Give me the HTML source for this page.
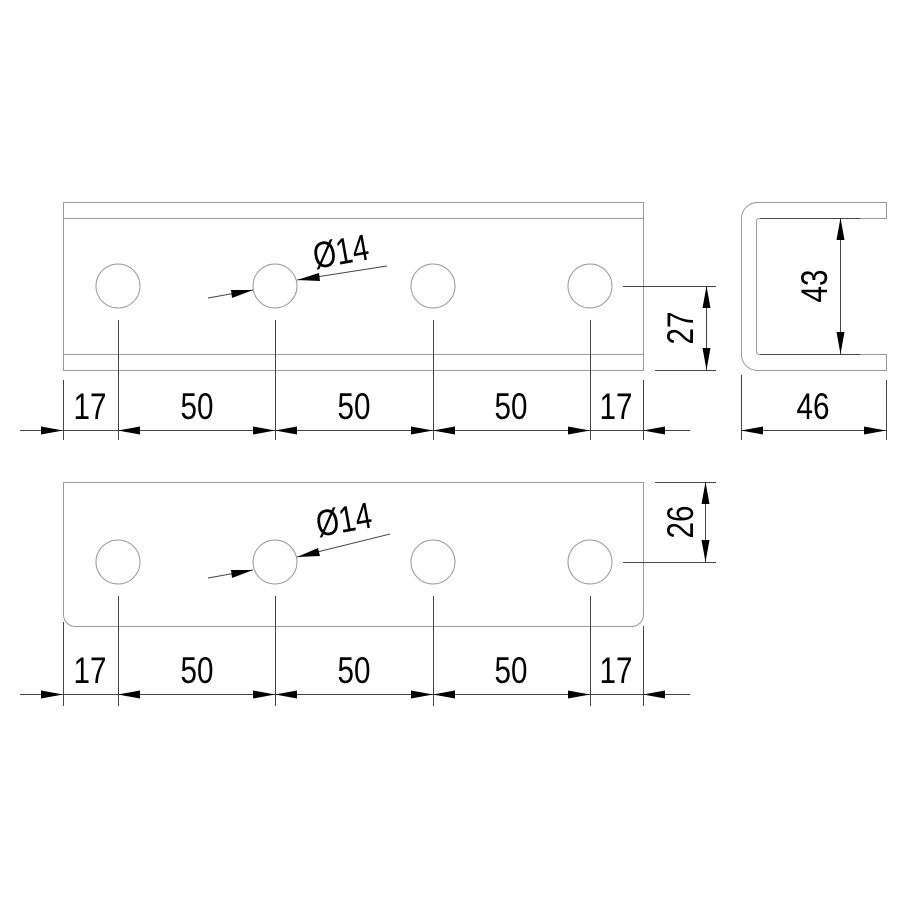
<!DOCTYPE html>
<html><head><style>html,body{margin:0;padding:0;background:#fff}svg{display:block}
text{font-family:"Liberation Sans",sans-serif;font-size:37px;fill:#000}</style></head>
<body>
<svg width="908" height="908" viewBox="0 0 908 908" xmlns="http://www.w3.org/2000/svg">
<defs>
<polygon id="ar" points="0,0 -22,-4 -22,4" fill="#000"/>
<polygon id="al" points="0,0 22,-4 22,4" fill="#000"/>
</defs>
<g fill="none" stroke="#999" stroke-width="1">
<rect x="63.5" y="202.5" width="580" height="168"/>
<line x1="63" y1="218.5" x2="643" y2="218.5"/>
<line x1="63" y1="354.5" x2="643" y2="354.5"/>
<circle cx="118" cy="286" r="22"/><circle cx="275" cy="286" r="22"/><circle cx="433" cy="286" r="22"/><circle cx="590" cy="286" r="22"/>
<path d="M886.5,202.5 H757 A16,16 0 0 0 741.5,218 V354 A16,16 0 0 0 757,370.5 H886.5 V354.5 H760 A3,3 0 0 1 756.5,351 V222 A3,3 0 0 1 760,218.5 H886.5 Z"/>
<path d="M63.5,482.5 H643.5 V614 A12,12 0 0 1 631,626.5 H76 A12,12 0 0 1 63.5,614 Z"/>
<circle cx="118" cy="562" r="22"/><circle cx="275" cy="562" r="22"/><circle cx="433" cy="562" r="22"/><circle cx="590" cy="562" r="22"/>
</g>
<g stroke="#444" stroke-width="1" fill="none">
<line x1="63.5" y1="380" x2="63.5" y2="440"/>
<line x1="118.5" y1="320" x2="118.5" y2="440"/>
<line x1="275.5" y1="320" x2="275.5" y2="440"/>
<line x1="433.5" y1="320" x2="433.5" y2="440"/>
<line x1="590.5" y1="320" x2="590.5" y2="440"/>
<line x1="643.5" y1="380" x2="643.5" y2="440"/>
<line x1="20" y1="430.5" x2="690" y2="430.5"/>
<line x1="623" y1="286.5" x2="716" y2="286.5"/>
<line x1="655" y1="370.5" x2="716" y2="370.5"/>
<line x1="706.5" y1="286" x2="706.5" y2="370"/>
<line x1="760" y1="218.5" x2="860" y2="218.5"/>
<line x1="760" y1="354.5" x2="860" y2="354.5"/>
<line x1="840.5" y1="218" x2="840.5" y2="354"/>
<line x1="741.5" y1="375" x2="741.5" y2="440"/>
<line x1="886.5" y1="380" x2="886.5" y2="440"/>
<line x1="741" y1="430.5" x2="886" y2="430.5"/>
<line x1="208" y1="298" x2="253" y2="290"/>
<line x1="297" y1="280" x2="387" y2="266"/>
<line x1="63.5" y1="622" x2="63.5" y2="706"/>
<line x1="118.5" y1="596" x2="118.5" y2="706"/>
<line x1="275.5" y1="596" x2="275.5" y2="706"/>
<line x1="433.5" y1="596" x2="433.5" y2="706"/>
<line x1="590.5" y1="596" x2="590.5" y2="706"/>
<line x1="643.5" y1="626" x2="643.5" y2="706"/>
<line x1="20" y1="694.5" x2="690" y2="694.5"/>
<line x1="655" y1="482.5" x2="716" y2="482.5"/>
<line x1="623" y1="562.5" x2="716" y2="562.5"/>
<line x1="705.5" y1="482" x2="705.5" y2="562"/>
<line x1="208" y1="578" x2="253" y2="570"/>
<line x1="297" y1="557" x2="390" y2="534"/>
</g>
<use href="#ar" x="63" y="430.5"/><use href="#al" x="118" y="430.5"/>
<use href="#ar" x="275" y="430.5"/><use href="#al" x="275" y="430.5"/>
<use href="#ar" x="433" y="430.5"/><use href="#al" x="433" y="430.5"/>
<use href="#ar" x="590" y="430.5"/><use href="#al" x="643" y="430.5"/>
<use href="#al" x="741" y="430.5"/><use href="#ar" x="886" y="430.5"/>
<polygon points="706.5,286 702.5,308 710.5,308" fill="#000"/>
<polygon points="706.5,370 702.5,348 710.5,348" fill="#000"/>
<polygon points="840.5,218 836.5,240 844.5,240" fill="#000"/>
<polygon points="840.5,354 836.5,332 844.5,332" fill="#000"/>
<polygon points="253,290 231,290 232,298" fill="#000"/>
<polygon points="297,280 319,273 320,281" fill="#000"/>
<use href="#ar" x="63" y="694.5"/><use href="#al" x="118" y="694.5"/>
<use href="#ar" x="275" y="694.5"/><use href="#al" x="275" y="694.5"/>
<use href="#ar" x="433" y="694.5"/><use href="#al" x="433" y="694.5"/>
<use href="#ar" x="590" y="694.5"/><use href="#al" x="643" y="694.5"/>
<polygon points="705.5,482 701.5,504 709.5,504" fill="#000"/>
<polygon points="705.5,562 701.5,540 709.5,540" fill="#000"/>
<polygon points="253,570 231,570 232,578" fill="#000"/>
<polygon points="297,557 318,548 320,556" fill="#000"/>
<g text-anchor="middle">
<text transform="translate(90,419) scale(0.8,1)">17</text>
<text transform="translate(197,419) scale(0.8,1)">50</text>
<text transform="translate(354,419) scale(0.8,1)">50</text>
<text transform="translate(511,419) scale(0.8,1)">50</text>
<text transform="translate(616,419) scale(0.8,1)">17</text>
<text transform="translate(813,419) scale(0.8,1)">46</text>
<text transform="translate(693,328) rotate(-90) scale(0.8,1)">27</text>
<text transform="translate(827,286) rotate(-90) scale(0.8,1)">43</text>
<text transform="translate(343,264) rotate(-10) scale(0.8,1)">Ø14</text>
<text transform="translate(90,683) scale(0.8,1)">17</text>
<text transform="translate(197,683) scale(0.8,1)">50</text>
<text transform="translate(354,683) scale(0.8,1)">50</text>
<text transform="translate(511,683) scale(0.8,1)">50</text>
<text transform="translate(616,683) scale(0.8,1)">17</text>
<text transform="translate(693,522) rotate(-90) scale(0.8,1)">26</text>
<text transform="translate(346,532) rotate(-10) scale(0.8,1)">Ø14</text>
</g>
</svg>
</body></html>
